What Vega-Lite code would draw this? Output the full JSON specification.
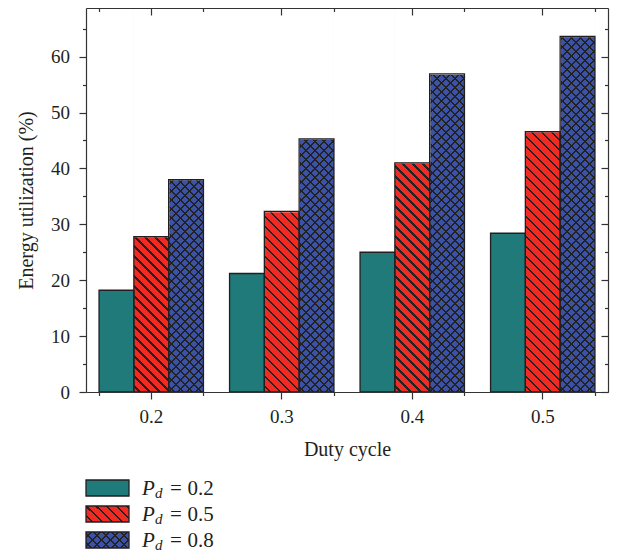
{
  "$schema": "https://vega.github.io/schema/vega-lite/v6.json",
  "autosize": {"type": "pad"},
  "padding": {"left": 16, "top": 7, "right": 5, "bottom": 5},
  "background": "white",
  "bounds": "flush",
  "spacing": 83,
  "datasets": {
    "bars": [
      {"duty": "0.2", "pd": "0.2", "value": 18.2},
      {"duty": "0.2", "pd": "0.5", "value": 27.8},
      {"duty": "0.2", "pd": "0.8", "value": 38.0},
      {"duty": "0.3", "pd": "0.2", "value": 21.2},
      {"duty": "0.3", "pd": "0.5", "value": 32.3},
      {"duty": "0.3", "pd": "0.8", "value": 45.3},
      {"duty": "0.4", "pd": "0.2", "value": 25.0},
      {"duty": "0.4", "pd": "0.5", "value": 41.0},
      {"duty": "0.4", "pd": "0.8", "value": 56.9},
      {"duty": "0.5", "pd": "0.2", "value": 28.4},
      {"duty": "0.5", "pd": "0.5", "value": 46.6},
      {"duty": "0.5", "pd": "0.8", "value": 63.6}
    ]
  },
  "data": {"name": "bars"},
  "config": {
    "view": {"stroke": null},
    "axis": {
      "domainColor": "#333333", "domainWidth": 1.2,
      "tickColor": "#333333", "tickWidth": 1.2,
      "grid": false,
      "labelFont": "Liberation Serif", "labelFontSize": 19, "labelColor": "#231f20",
      "titleFont": "Liberation Serif", "titleFontSize": 20, "titleFontWeight": "normal", "titleColor": "#231f20"
    },
    "axisX": {"labelAngle": 0, "labelPadding": 8, "titlePadding": 13},
    "axisY": {"labelPadding": 9.5, "titlePadding": 14},
    "text": {"font": "Liberation Serif", "color": "#231f20"}
  },
  "vconcat": [
    {
      "width": 522,
      "height": 384,
      "resolve": {"axis": {"x": "independent", "y": "independent"}},
      "layer": [
        {
          "transform": [{"filter": "datum.pd === '0.5'"}],
          "mark": {"type": "bar", "fill": {"gradient": "linear", "x1": 0, "y1": 1, "x2": 0.11704, "y2": -0.29147, "stops": [
            {"offset":0,"color":"#ef2b24"},
            {"offset":0.01,"color":"#ef2b24"},{"offset":0.01,"color":"#222"},{"offset":0.015,"color":"#222"},{"offset":0.015,"color":"#ef2b24"},
            {"offset":0.03,"color":"#ef2b24"},{"offset":0.03,"color":"#222"},{"offset":0.035,"color":"#222"},{"offset":0.035,"color":"#ef2b24"},
            {"offset":0.05,"color":"#ef2b24"},{"offset":0.05,"color":"#222"},{"offset":0.055,"color":"#222"},{"offset":0.055,"color":"#ef2b24"},
            {"offset":0.07,"color":"#ef2b24"},{"offset":0.07,"color":"#222"},{"offset":0.075,"color":"#222"},{"offset":0.075,"color":"#ef2b24"},
            {"offset":0.09,"color":"#ef2b24"},{"offset":0.09,"color":"#222"},{"offset":0.095,"color":"#222"},{"offset":0.095,"color":"#ef2b24"},
            {"offset":0.11,"color":"#ef2b24"},{"offset":0.11,"color":"#222"},{"offset":0.115,"color":"#222"},{"offset":0.115,"color":"#ef2b24"},
            {"offset":0.13,"color":"#ef2b24"},{"offset":0.13,"color":"#222"},{"offset":0.135,"color":"#222"},{"offset":0.135,"color":"#ef2b24"},
            {"offset":0.15,"color":"#ef2b24"},{"offset":0.15,"color":"#222"},{"offset":0.155,"color":"#222"},{"offset":0.155,"color":"#ef2b24"},
            {"offset":0.17,"color":"#ef2b24"},{"offset":0.17,"color":"#222"},{"offset":0.175,"color":"#222"},{"offset":0.175,"color":"#ef2b24"},
            {"offset":0.19,"color":"#ef2b24"},{"offset":0.19,"color":"#222"},{"offset":0.195,"color":"#222"},{"offset":0.195,"color":"#ef2b24"},
            {"offset":0.21,"color":"#ef2b24"},{"offset":0.21,"color":"#222"},{"offset":0.215,"color":"#222"},{"offset":0.215,"color":"#ef2b24"},
            {"offset":0.23,"color":"#ef2b24"},{"offset":0.23,"color":"#222"},{"offset":0.235,"color":"#222"},{"offset":0.235,"color":"#ef2b24"},
            {"offset":0.25,"color":"#ef2b24"},{"offset":0.25,"color":"#222"},{"offset":0.255,"color":"#222"},{"offset":0.255,"color":"#ef2b24"},
            {"offset":0.27,"color":"#ef2b24"},{"offset":0.27,"color":"#222"},{"offset":0.275,"color":"#222"},{"offset":0.275,"color":"#ef2b24"},
            {"offset":0.29,"color":"#ef2b24"},{"offset":0.29,"color":"#222"},{"offset":0.295,"color":"#222"},{"offset":0.295,"color":"#ef2b24"},
            {"offset":0.31,"color":"#ef2b24"},{"offset":0.31,"color":"#222"},{"offset":0.315,"color":"#222"},{"offset":0.315,"color":"#ef2b24"},
            {"offset":0.33,"color":"#ef2b24"},{"offset":0.33,"color":"#222"},{"offset":0.335,"color":"#222"},{"offset":0.335,"color":"#ef2b24"},
            {"offset":0.35,"color":"#ef2b24"},{"offset":0.35,"color":"#222"},{"offset":0.355,"color":"#222"},{"offset":0.355,"color":"#ef2b24"},
            {"offset":0.37,"color":"#ef2b24"},{"offset":0.37,"color":"#222"},{"offset":0.375,"color":"#222"},{"offset":0.375,"color":"#ef2b24"},
            {"offset":0.39,"color":"#ef2b24"},{"offset":0.39,"color":"#222"},{"offset":0.395,"color":"#222"},{"offset":0.395,"color":"#ef2b24"},
            {"offset":0.41,"color":"#ef2b24"},{"offset":0.41,"color":"#222"},{"offset":0.415,"color":"#222"},{"offset":0.415,"color":"#ef2b24"},
            {"offset":0.43,"color":"#ef2b24"},{"offset":0.43,"color":"#222"},{"offset":0.435,"color":"#222"},{"offset":0.435,"color":"#ef2b24"},
            {"offset":0.45,"color":"#ef2b24"},{"offset":0.45,"color":"#222"},{"offset":0.455,"color":"#222"},{"offset":0.455,"color":"#ef2b24"},
            {"offset":0.47,"color":"#ef2b24"},{"offset":0.47,"color":"#222"},{"offset":0.475,"color":"#222"},{"offset":0.475,"color":"#ef2b24"},
            {"offset":0.49,"color":"#ef2b24"},{"offset":0.49,"color":"#222"},{"offset":0.495,"color":"#222"},{"offset":0.495,"color":"#ef2b24"},
            {"offset":0.51,"color":"#ef2b24"},{"offset":0.51,"color":"#222"},{"offset":0.515,"color":"#222"},{"offset":0.515,"color":"#ef2b24"},
            {"offset":0.53,"color":"#ef2b24"},{"offset":0.53,"color":"#222"},{"offset":0.535,"color":"#222"},{"offset":0.535,"color":"#ef2b24"},
            {"offset":0.55,"color":"#ef2b24"},{"offset":0.55,"color":"#222"},{"offset":0.555,"color":"#222"},{"offset":0.555,"color":"#ef2b24"},
            {"offset":0.57,"color":"#ef2b24"},{"offset":0.57,"color":"#222"},{"offset":0.575,"color":"#222"},{"offset":0.575,"color":"#ef2b24"},
            {"offset":0.59,"color":"#ef2b24"},{"offset":0.59,"color":"#222"},{"offset":0.595,"color":"#222"},{"offset":0.595,"color":"#ef2b24"},
            {"offset":0.61,"color":"#ef2b24"},{"offset":0.61,"color":"#222"},{"offset":0.615,"color":"#222"},{"offset":0.615,"color":"#ef2b24"},
            {"offset":0.63,"color":"#ef2b24"},{"offset":0.63,"color":"#222"},{"offset":0.635,"color":"#222"},{"offset":0.635,"color":"#ef2b24"},
            {"offset":0.65,"color":"#ef2b24"},{"offset":0.65,"color":"#222"},{"offset":0.655,"color":"#222"},{"offset":0.655,"color":"#ef2b24"},
            {"offset":0.67,"color":"#ef2b24"},{"offset":0.67,"color":"#222"},{"offset":0.675,"color":"#222"},{"offset":0.675,"color":"#ef2b24"},
            {"offset":0.69,"color":"#ef2b24"},{"offset":0.69,"color":"#222"},{"offset":0.695,"color":"#222"},{"offset":0.695,"color":"#ef2b24"},
            {"offset":0.71,"color":"#ef2b24"},{"offset":0.71,"color":"#222"},{"offset":0.715,"color":"#222"},{"offset":0.715,"color":"#ef2b24"},
            {"offset":0.73,"color":"#ef2b24"},{"offset":0.73,"color":"#222"},{"offset":0.735,"color":"#222"},{"offset":0.735,"color":"#ef2b24"},
            {"offset":0.75,"color":"#ef2b24"},{"offset":0.75,"color":"#222"},{"offset":0.755,"color":"#222"},{"offset":0.755,"color":"#ef2b24"},
            {"offset":0.77,"color":"#ef2b24"},{"offset":0.77,"color":"#222"},{"offset":0.775,"color":"#222"},{"offset":0.775,"color":"#ef2b24"},
            {"offset":0.79,"color":"#ef2b24"},{"offset":0.79,"color":"#222"},{"offset":0.795,"color":"#222"},{"offset":0.795,"color":"#ef2b24"},
            {"offset":0.81,"color":"#ef2b24"},{"offset":0.81,"color":"#222"},{"offset":0.815,"color":"#222"},{"offset":0.815,"color":"#ef2b24"},
            {"offset":0.83,"color":"#ef2b24"},{"offset":0.83,"color":"#222"},{"offset":0.835,"color":"#222"},{"offset":0.835,"color":"#ef2b24"},
            {"offset":0.85,"color":"#ef2b24"},{"offset":0.85,"color":"#222"},{"offset":0.855,"color":"#222"},{"offset":0.855,"color":"#ef2b24"},
            {"offset":1,"color":"#ef2b24"}
          ]}},
          "encoding": {
            "x": {"field": "duty", "type": "nominal", "scale": {"paddingInner": 0.2, "paddingOuter": 0.1},
                  "axis": {"orient": "top", "tickSize": -7, "labels": false, "title": null, "domain": true, "zindex": 2}},
            "xOffset": {"field": "pd", "type": "nominal", "scale": {"domain": ["0.2", "0.5", "0.8"]}},
            "y": {"datum": 0, "type": "quantitative", "scale": {"domain": [0, 68.7], "nice": false}, "axis": null},
            "y2": {"datum": 68.7}
          }
        },
        {
          "transform": [{"filter": "datum.pd === '0.8'"}],
          "mark": {"type": "bar", "fill": {"gradient": "linear", "x1": 0, "y1": 1, "x2": 0.10534, "y2": -0.16233, "stops": [
            {"offset":0,"color":"#3c52a6"},
            {"offset":0.01,"color":"#3c52a6"},{"offset":0.01,"color":"#222"},{"offset":0.015,"color":"#222"},{"offset":0.015,"color":"#3c52a6"},
            {"offset":0.03,"color":"#3c52a6"},{"offset":0.03,"color":"#222"},{"offset":0.035,"color":"#222"},{"offset":0.035,"color":"#3c52a6"},
            {"offset":0.05,"color":"#3c52a6"},{"offset":0.05,"color":"#222"},{"offset":0.055,"color":"#222"},{"offset":0.055,"color":"#3c52a6"},
            {"offset":0.07,"color":"#3c52a6"},{"offset":0.07,"color":"#222"},{"offset":0.075,"color":"#222"},{"offset":0.075,"color":"#3c52a6"},
            {"offset":0.09,"color":"#3c52a6"},{"offset":0.09,"color":"#222"},{"offset":0.095,"color":"#222"},{"offset":0.095,"color":"#3c52a6"},
            {"offset":0.11,"color":"#3c52a6"},{"offset":0.11,"color":"#222"},{"offset":0.115,"color":"#222"},{"offset":0.115,"color":"#3c52a6"},
            {"offset":0.13,"color":"#3c52a6"},{"offset":0.13,"color":"#222"},{"offset":0.135,"color":"#222"},{"offset":0.135,"color":"#3c52a6"},
            {"offset":0.15,"color":"#3c52a6"},{"offset":0.15,"color":"#222"},{"offset":0.155,"color":"#222"},{"offset":0.155,"color":"#3c52a6"},
            {"offset":0.17,"color":"#3c52a6"},{"offset":0.17,"color":"#222"},{"offset":0.175,"color":"#222"},{"offset":0.175,"color":"#3c52a6"},
            {"offset":0.19,"color":"#3c52a6"},{"offset":0.19,"color":"#222"},{"offset":0.195,"color":"#222"},{"offset":0.195,"color":"#3c52a6"},
            {"offset":0.21,"color":"#3c52a6"},{"offset":0.21,"color":"#222"},{"offset":0.215,"color":"#222"},{"offset":0.215,"color":"#3c52a6"},
            {"offset":0.23,"color":"#3c52a6"},{"offset":0.23,"color":"#222"},{"offset":0.235,"color":"#222"},{"offset":0.235,"color":"#3c52a6"},
            {"offset":0.25,"color":"#3c52a6"},{"offset":0.25,"color":"#222"},{"offset":0.255,"color":"#222"},{"offset":0.255,"color":"#3c52a6"},
            {"offset":0.27,"color":"#3c52a6"},{"offset":0.27,"color":"#222"},{"offset":0.275,"color":"#222"},{"offset":0.275,"color":"#3c52a6"},
            {"offset":0.29,"color":"#3c52a6"},{"offset":0.29,"color":"#222"},{"offset":0.295,"color":"#222"},{"offset":0.295,"color":"#3c52a6"},
            {"offset":0.31,"color":"#3c52a6"},{"offset":0.31,"color":"#222"},{"offset":0.315,"color":"#222"},{"offset":0.315,"color":"#3c52a6"},
            {"offset":0.33,"color":"#3c52a6"},{"offset":0.33,"color":"#222"},{"offset":0.335,"color":"#222"},{"offset":0.335,"color":"#3c52a6"},
            {"offset":0.35,"color":"#3c52a6"},{"offset":0.35,"color":"#222"},{"offset":0.355,"color":"#222"},{"offset":0.355,"color":"#3c52a6"},
            {"offset":0.37,"color":"#3c52a6"},{"offset":0.37,"color":"#222"},{"offset":0.375,"color":"#222"},{"offset":0.375,"color":"#3c52a6"},
            {"offset":0.39,"color":"#3c52a6"},{"offset":0.39,"color":"#222"},{"offset":0.395,"color":"#222"},{"offset":0.395,"color":"#3c52a6"},
            {"offset":0.41,"color":"#3c52a6"},{"offset":0.41,"color":"#222"},{"offset":0.415,"color":"#222"},{"offset":0.415,"color":"#3c52a6"},
            {"offset":0.43,"color":"#3c52a6"},{"offset":0.43,"color":"#222"},{"offset":0.435,"color":"#222"},{"offset":0.435,"color":"#3c52a6"},
            {"offset":0.45,"color":"#3c52a6"},{"offset":0.45,"color":"#222"},{"offset":0.455,"color":"#222"},{"offset":0.455,"color":"#3c52a6"},
            {"offset":0.47,"color":"#3c52a6"},{"offset":0.47,"color":"#222"},{"offset":0.475,"color":"#222"},{"offset":0.475,"color":"#3c52a6"},
            {"offset":0.49,"color":"#3c52a6"},{"offset":0.49,"color":"#222"},{"offset":0.495,"color":"#222"},{"offset":0.495,"color":"#3c52a6"},
            {"offset":0.51,"color":"#3c52a6"},{"offset":0.51,"color":"#222"},{"offset":0.515,"color":"#222"},{"offset":0.515,"color":"#3c52a6"},
            {"offset":0.53,"color":"#3c52a6"},{"offset":0.53,"color":"#222"},{"offset":0.535,"color":"#222"},{"offset":0.535,"color":"#3c52a6"},
            {"offset":0.55,"color":"#3c52a6"},{"offset":0.55,"color":"#222"},{"offset":0.555,"color":"#222"},{"offset":0.555,"color":"#3c52a6"},
            {"offset":0.57,"color":"#3c52a6"},{"offset":0.57,"color":"#222"},{"offset":0.575,"color":"#222"},{"offset":0.575,"color":"#3c52a6"},
            {"offset":0.59,"color":"#3c52a6"},{"offset":0.59,"color":"#222"},{"offset":0.595,"color":"#222"},{"offset":0.595,"color":"#3c52a6"},
            {"offset":0.61,"color":"#3c52a6"},{"offset":0.61,"color":"#222"},{"offset":0.615,"color":"#222"},{"offset":0.615,"color":"#3c52a6"},
            {"offset":0.63,"color":"#3c52a6"},{"offset":0.63,"color":"#222"},{"offset":0.635,"color":"#222"},{"offset":0.635,"color":"#3c52a6"},
            {"offset":0.65,"color":"#3c52a6"},{"offset":0.65,"color":"#222"},{"offset":0.655,"color":"#222"},{"offset":0.655,"color":"#3c52a6"},
            {"offset":0.67,"color":"#3c52a6"},{"offset":0.67,"color":"#222"},{"offset":0.675,"color":"#222"},{"offset":0.675,"color":"#3c52a6"},
            {"offset":0.69,"color":"#3c52a6"},{"offset":0.69,"color":"#222"},{"offset":0.695,"color":"#222"},{"offset":0.695,"color":"#3c52a6"},
            {"offset":0.71,"color":"#3c52a6"},{"offset":0.71,"color":"#222"},{"offset":0.715,"color":"#222"},{"offset":0.715,"color":"#3c52a6"},
            {"offset":0.73,"color":"#3c52a6"},{"offset":0.73,"color":"#222"},{"offset":0.735,"color":"#222"},{"offset":0.735,"color":"#3c52a6"},
            {"offset":0.75,"color":"#3c52a6"},{"offset":0.75,"color":"#222"},{"offset":0.755,"color":"#222"},{"offset":0.755,"color":"#3c52a6"},
            {"offset":0.77,"color":"#3c52a6"},{"offset":0.77,"color":"#222"},{"offset":0.775,"color":"#222"},{"offset":0.775,"color":"#3c52a6"},
            {"offset":0.79,"color":"#3c52a6"},{"offset":0.79,"color":"#222"},{"offset":0.795,"color":"#222"},{"offset":0.795,"color":"#3c52a6"},
            {"offset":0.81,"color":"#3c52a6"},{"offset":0.81,"color":"#222"},{"offset":0.815,"color":"#222"},{"offset":0.815,"color":"#3c52a6"},
            {"offset":0.83,"color":"#3c52a6"},{"offset":0.83,"color":"#222"},{"offset":0.835,"color":"#222"},{"offset":0.835,"color":"#3c52a6"},
            {"offset":0.85,"color":"#3c52a6"},{"offset":0.85,"color":"#222"},{"offset":0.855,"color":"#222"},{"offset":0.855,"color":"#3c52a6"},
            {"offset":0.87,"color":"#3c52a6"},{"offset":0.87,"color":"#222"},{"offset":0.875,"color":"#222"},{"offset":0.875,"color":"#3c52a6"},
            {"offset":0.89,"color":"#3c52a6"},{"offset":0.89,"color":"#222"},{"offset":0.895,"color":"#222"},{"offset":0.895,"color":"#3c52a6"},
            {"offset":0.91,"color":"#3c52a6"},{"offset":0.91,"color":"#222"},{"offset":0.915,"color":"#222"},{"offset":0.915,"color":"#3c52a6"},
            {"offset":0.93,"color":"#3c52a6"},{"offset":0.93,"color":"#222"},{"offset":0.935,"color":"#222"},{"offset":0.935,"color":"#3c52a6"},
            {"offset":1,"color":"#3c52a6"}
          ]}},
          "encoding": {
            "x": {"field": "duty", "type": "nominal", "scale": {"paddingInner": 0.2, "paddingOuter": 0.1},
                  "axis": {"orient": "top", "tickBand": "extent", "tickSize": -3.5, "labels": false, "title": null, "domain": false, "zindex": 2}},
            "xOffset": {"field": "pd", "type": "nominal", "scale": {"domain": ["0.2", "0.5", "0.8"]}},
            "y": {"datum": 0, "type": "quantitative", "scale": {"domain": [0, 68.7], "nice": false}, "axis": null},
            "y2": {"datum": 68.7}
          }
        },
        {
          "transform": [{"filter": "datum.pd === '0.8'"}],
          "mark": {"type": "bar", "fill": {"gradient": "linear", "x1": 0, "y1": 0, "x2": 0.10534, "y2": 1.16233, "stops": [
            {"offset":0,"color":"rgba(34,34,34,0)"},
            {"offset":0.01,"color":"rgba(34,34,34,0)"},{"offset":0.01,"color":"#222"},{"offset":0.015,"color":"#222"},{"offset":0.015,"color":"rgba(34,34,34,0)"},
            {"offset":0.03,"color":"rgba(34,34,34,0)"},{"offset":0.03,"color":"#222"},{"offset":0.035,"color":"#222"},{"offset":0.035,"color":"rgba(34,34,34,0)"},
            {"offset":0.05,"color":"rgba(34,34,34,0)"},{"offset":0.05,"color":"#222"},{"offset":0.055,"color":"#222"},{"offset":0.055,"color":"rgba(34,34,34,0)"},
            {"offset":0.07,"color":"rgba(34,34,34,0)"},{"offset":0.07,"color":"#222"},{"offset":0.075,"color":"#222"},{"offset":0.075,"color":"rgba(34,34,34,0)"},
            {"offset":0.09,"color":"rgba(34,34,34,0)"},{"offset":0.09,"color":"#222"},{"offset":0.095,"color":"#222"},{"offset":0.095,"color":"rgba(34,34,34,0)"},
            {"offset":0.11,"color":"rgba(34,34,34,0)"},{"offset":0.11,"color":"#222"},{"offset":0.115,"color":"#222"},{"offset":0.115,"color":"rgba(34,34,34,0)"},
            {"offset":0.13,"color":"rgba(34,34,34,0)"},{"offset":0.13,"color":"#222"},{"offset":0.135,"color":"#222"},{"offset":0.135,"color":"rgba(34,34,34,0)"},
            {"offset":0.15,"color":"rgba(34,34,34,0)"},{"offset":0.15,"color":"#222"},{"offset":0.155,"color":"#222"},{"offset":0.155,"color":"rgba(34,34,34,0)"},
            {"offset":0.17,"color":"rgba(34,34,34,0)"},{"offset":0.17,"color":"#222"},{"offset":0.175,"color":"#222"},{"offset":0.175,"color":"rgba(34,34,34,0)"},
            {"offset":0.19,"color":"rgba(34,34,34,0)"},{"offset":0.19,"color":"#222"},{"offset":0.195,"color":"#222"},{"offset":0.195,"color":"rgba(34,34,34,0)"},
            {"offset":0.21,"color":"rgba(34,34,34,0)"},{"offset":0.21,"color":"#222"},{"offset":0.215,"color":"#222"},{"offset":0.215,"color":"rgba(34,34,34,0)"},
            {"offset":0.23,"color":"rgba(34,34,34,0)"},{"offset":0.23,"color":"#222"},{"offset":0.235,"color":"#222"},{"offset":0.235,"color":"rgba(34,34,34,0)"},
            {"offset":0.25,"color":"rgba(34,34,34,0)"},{"offset":0.25,"color":"#222"},{"offset":0.255,"color":"#222"},{"offset":0.255,"color":"rgba(34,34,34,0)"},
            {"offset":0.27,"color":"rgba(34,34,34,0)"},{"offset":0.27,"color":"#222"},{"offset":0.275,"color":"#222"},{"offset":0.275,"color":"rgba(34,34,34,0)"},
            {"offset":0.29,"color":"rgba(34,34,34,0)"},{"offset":0.29,"color":"#222"},{"offset":0.295,"color":"#222"},{"offset":0.295,"color":"rgba(34,34,34,0)"},
            {"offset":0.31,"color":"rgba(34,34,34,0)"},{"offset":0.31,"color":"#222"},{"offset":0.315,"color":"#222"},{"offset":0.315,"color":"rgba(34,34,34,0)"},
            {"offset":0.33,"color":"rgba(34,34,34,0)"},{"offset":0.33,"color":"#222"},{"offset":0.335,"color":"#222"},{"offset":0.335,"color":"rgba(34,34,34,0)"},
            {"offset":0.35,"color":"rgba(34,34,34,0)"},{"offset":0.35,"color":"#222"},{"offset":0.355,"color":"#222"},{"offset":0.355,"color":"rgba(34,34,34,0)"},
            {"offset":0.37,"color":"rgba(34,34,34,0)"},{"offset":0.37,"color":"#222"},{"offset":0.375,"color":"#222"},{"offset":0.375,"color":"rgba(34,34,34,0)"},
            {"offset":0.39,"color":"rgba(34,34,34,0)"},{"offset":0.39,"color":"#222"},{"offset":0.395,"color":"#222"},{"offset":0.395,"color":"rgba(34,34,34,0)"},
            {"offset":0.41,"color":"rgba(34,34,34,0)"},{"offset":0.41,"color":"#222"},{"offset":0.415,"color":"#222"},{"offset":0.415,"color":"rgba(34,34,34,0)"},
            {"offset":0.43,"color":"rgba(34,34,34,0)"},{"offset":0.43,"color":"#222"},{"offset":0.435,"color":"#222"},{"offset":0.435,"color":"rgba(34,34,34,0)"},
            {"offset":0.45,"color":"rgba(34,34,34,0)"},{"offset":0.45,"color":"#222"},{"offset":0.455,"color":"#222"},{"offset":0.455,"color":"rgba(34,34,34,0)"},
            {"offset":0.47,"color":"rgba(34,34,34,0)"},{"offset":0.47,"color":"#222"},{"offset":0.475,"color":"#222"},{"offset":0.475,"color":"rgba(34,34,34,0)"},
            {"offset":0.49,"color":"rgba(34,34,34,0)"},{"offset":0.49,"color":"#222"},{"offset":0.495,"color":"#222"},{"offset":0.495,"color":"rgba(34,34,34,0)"},
            {"offset":0.51,"color":"rgba(34,34,34,0)"},{"offset":0.51,"color":"#222"},{"offset":0.515,"color":"#222"},{"offset":0.515,"color":"rgba(34,34,34,0)"},
            {"offset":0.53,"color":"rgba(34,34,34,0)"},{"offset":0.53,"color":"#222"},{"offset":0.535,"color":"#222"},{"offset":0.535,"color":"rgba(34,34,34,0)"},
            {"offset":0.55,"color":"rgba(34,34,34,0)"},{"offset":0.55,"color":"#222"},{"offset":0.555,"color":"#222"},{"offset":0.555,"color":"rgba(34,34,34,0)"},
            {"offset":0.57,"color":"rgba(34,34,34,0)"},{"offset":0.57,"color":"#222"},{"offset":0.575,"color":"#222"},{"offset":0.575,"color":"rgba(34,34,34,0)"},
            {"offset":0.59,"color":"rgba(34,34,34,0)"},{"offset":0.59,"color":"#222"},{"offset":0.595,"color":"#222"},{"offset":0.595,"color":"rgba(34,34,34,0)"},
            {"offset":0.61,"color":"rgba(34,34,34,0)"},{"offset":0.61,"color":"#222"},{"offset":0.615,"color":"#222"},{"offset":0.615,"color":"rgba(34,34,34,0)"},
            {"offset":0.63,"color":"rgba(34,34,34,0)"},{"offset":0.63,"color":"#222"},{"offset":0.635,"color":"#222"},{"offset":0.635,"color":"rgba(34,34,34,0)"},
            {"offset":0.65,"color":"rgba(34,34,34,0)"},{"offset":0.65,"color":"#222"},{"offset":0.655,"color":"#222"},{"offset":0.655,"color":"rgba(34,34,34,0)"},
            {"offset":0.67,"color":"rgba(34,34,34,0)"},{"offset":0.67,"color":"#222"},{"offset":0.675,"color":"#222"},{"offset":0.675,"color":"rgba(34,34,34,0)"},
            {"offset":0.69,"color":"rgba(34,34,34,0)"},{"offset":0.69,"color":"#222"},{"offset":0.695,"color":"#222"},{"offset":0.695,"color":"rgba(34,34,34,0)"},
            {"offset":0.71,"color":"rgba(34,34,34,0)"},{"offset":0.71,"color":"#222"},{"offset":0.715,"color":"#222"},{"offset":0.715,"color":"rgba(34,34,34,0)"},
            {"offset":0.73,"color":"rgba(34,34,34,0)"},{"offset":0.73,"color":"#222"},{"offset":0.735,"color":"#222"},{"offset":0.735,"color":"rgba(34,34,34,0)"},
            {"offset":0.75,"color":"rgba(34,34,34,0)"},{"offset":0.75,"color":"#222"},{"offset":0.755,"color":"#222"},{"offset":0.755,"color":"rgba(34,34,34,0)"},
            {"offset":0.77,"color":"rgba(34,34,34,0)"},{"offset":0.77,"color":"#222"},{"offset":0.775,"color":"#222"},{"offset":0.775,"color":"rgba(34,34,34,0)"},
            {"offset":0.79,"color":"rgba(34,34,34,0)"},{"offset":0.79,"color":"#222"},{"offset":0.795,"color":"#222"},{"offset":0.795,"color":"rgba(34,34,34,0)"},
            {"offset":0.81,"color":"rgba(34,34,34,0)"},{"offset":0.81,"color":"#222"},{"offset":0.815,"color":"#222"},{"offset":0.815,"color":"rgba(34,34,34,0)"},
            {"offset":0.83,"color":"rgba(34,34,34,0)"},{"offset":0.83,"color":"#222"},{"offset":0.835,"color":"#222"},{"offset":0.835,"color":"rgba(34,34,34,0)"},
            {"offset":0.85,"color":"rgba(34,34,34,0)"},{"offset":0.85,"color":"#222"},{"offset":0.855,"color":"#222"},{"offset":0.855,"color":"rgba(34,34,34,0)"},
            {"offset":0.87,"color":"rgba(34,34,34,0)"},{"offset":0.87,"color":"#222"},{"offset":0.875,"color":"#222"},{"offset":0.875,"color":"rgba(34,34,34,0)"},
            {"offset":0.89,"color":"rgba(34,34,34,0)"},{"offset":0.89,"color":"#222"},{"offset":0.895,"color":"#222"},{"offset":0.895,"color":"rgba(34,34,34,0)"},
            {"offset":0.91,"color":"rgba(34,34,34,0)"},{"offset":0.91,"color":"#222"},{"offset":0.915,"color":"#222"},{"offset":0.915,"color":"rgba(34,34,34,0)"},
            {"offset":0.93,"color":"rgba(34,34,34,0)"},{"offset":0.93,"color":"#222"},{"offset":0.935,"color":"#222"},{"offset":0.935,"color":"rgba(34,34,34,0)"},
            {"offset":1,"color":"rgba(34,34,34,0)"}
          ]}},
          "encoding": {
            "x": {"field": "duty", "type": "nominal", "scale": {"paddingInner": 0.2, "paddingOuter": 0.1},
                  "axis": {"orient": "bottom", "tickBand": "extent", "tickSize": 3.5, "labels": false, "title": null, "domain": false, "zindex": 2}},
            "xOffset": {"field": "pd", "type": "nominal", "scale": {"domain": ["0.2", "0.5", "0.8"]}},
            "y": {"datum": 0, "type": "quantitative", "scale": {"domain": [0, 68.7], "nice": false}, "axis": null},
            "y2": {"datum": 68.7}
          }
        },
        {
          "transform": [{"filter": "datum.pd !== '0.2'"}],
          "mark": {"type": "bar", "fill": "white", "stroke": "white", "strokeWidth": 1.4},
          "encoding": {
            "x": {"field": "duty", "type": "nominal", "scale": {"paddingInner": 0.2, "paddingOuter": 0.1}, "axis": null},
            "xOffset": {"field": "pd", "type": "nominal", "scale": {"domain": ["0.2", "0.5", "0.8"]}},
            "y": {"field": "value", "type": "quantitative", "scale": {"domain": [0, 68.7], "nice": false},
                  "axis": {"orient": "right", "values": [0, 5, 10, 15, 20, 25, 30, 35, 40, 45, 50, 55, 60, 65],
                           "tickSize": {"condition": {"test": "datum.value % 10 === 0", "value": -7}, "value": -3.5},
                           "labels": false, "title": null, "zindex": 2}},
            "y2": {"datum": 68.7}
          }
        },
        {
          "mark": {"type": "bar", "stroke": "#231f20", "strokeWidth": 1.3},
          "encoding": {
            "x": {"field": "duty", "type": "nominal", "scale": {"paddingInner": 0.2, "paddingOuter": 0.1},
                  "axis": {"orient": "bottom", "tickSize": 7, "title": "Duty cycle", "zindex": 2}},
            "xOffset": {"field": "pd", "type": "nominal", "scale": {"domain": ["0.2", "0.5", "0.8"]}},
            "y": {"field": "value", "type": "quantitative", "scale": {"domain": [0, 68.7], "nice": false},
                  "axis": {"orient": "left", "values": [0, 5, 10, 15, 20, 25, 30, 35, 40, 45, 50, 55, 60, 65],
                           "tickSize": {"condition": {"test": "datum.value % 10 === 0", "value": 7}, "value": 3.5},
                           "labelExpr": "datum.value % 10 === 0 ? datum.label : ''",
                           "title": "Energy utilization (%)", "zindex": 2}},
            "fill": {"field": "pd", "type": "nominal",
                     "scale": {"domain": ["0.2", "0.5", "0.8"], "range": ["#1f7a79", "transparent", "transparent"]},
                     "legend": null}
          }
        }
      ]
    },
    {
      "width": 43,
      "height": 78,
      "transform": [{"filter": "datum.duty === '0.2'"}],
      "encoding": {
        "y": {"field": "pd", "type": "nominal",
              "scale": {"domain": ["0.2", "0.5", "0.8"], "paddingInner": 0.385, "paddingOuter": 0.1925},
              "axis": null}
      },
      "layer": [
        {
          "transform": [{"filter": "datum.pd === '0.5'"}],
          "mark": {"type": "bar", "fill": {"gradient": "linear", "x1": 0, "y1": 1, "x2": 2.043, "y2": 0.2398, "stops": [
            {"offset":0,"color":"#ef2b24"},
            {"offset":0.05,"color":"#ef2b24"},{"offset":0.05,"color":"#222"},{"offset":0.075,"color":"#222"},{"offset":0.075,"color":"#ef2b24"},
            {"offset":0.15,"color":"#ef2b24"},{"offset":0.15,"color":"#222"},{"offset":0.175,"color":"#222"},{"offset":0.175,"color":"#ef2b24"},
            {"offset":0.25,"color":"#ef2b24"},{"offset":0.25,"color":"#222"},{"offset":0.275,"color":"#222"},{"offset":0.275,"color":"#ef2b24"},
            {"offset":0.35,"color":"#ef2b24"},{"offset":0.35,"color":"#222"},{"offset":0.375,"color":"#222"},{"offset":0.375,"color":"#ef2b24"},
            {"offset":0.45,"color":"#ef2b24"},{"offset":0.45,"color":"#222"},{"offset":0.475,"color":"#222"},{"offset":0.475,"color":"#ef2b24"},
            {"offset":0.55,"color":"#ef2b24"},{"offset":0.55,"color":"#222"},{"offset":0.575,"color":"#222"},{"offset":0.575,"color":"#ef2b24"},
            {"offset":1,"color":"#ef2b24"}
          ]}},
          "encoding": {"x": {"value": 0}, "x2": {"value": "width"}}
        },
        {
          "transform": [{"filter": "datum.pd === '0.8'"}],
          "mark": {"type": "bar", "fill": {"gradient": "linear", "x1": 0, "y1": 1, "x2": 1.8387, "y2": 0.3158, "stops": [
            {"offset":0,"color":"#3c52a6"},
            {"offset":0.05,"color":"#3c52a6"},{"offset":0.05,"color":"#222"},{"offset":0.072,"color":"#222"},{"offset":0.072,"color":"#3c52a6"},
            {"offset":0.15,"color":"#3c52a6"},{"offset":0.15,"color":"#222"},{"offset":0.172,"color":"#222"},{"offset":0.172,"color":"#3c52a6"},
            {"offset":0.25,"color":"#3c52a6"},{"offset":0.25,"color":"#222"},{"offset":0.272,"color":"#222"},{"offset":0.272,"color":"#3c52a6"},
            {"offset":0.35,"color":"#3c52a6"},{"offset":0.35,"color":"#222"},{"offset":0.372,"color":"#222"},{"offset":0.372,"color":"#3c52a6"},
            {"offset":0.45,"color":"#3c52a6"},{"offset":0.45,"color":"#222"},{"offset":0.472,"color":"#222"},{"offset":0.472,"color":"#3c52a6"},
            {"offset":0.55,"color":"#3c52a6"},{"offset":0.55,"color":"#222"},{"offset":0.572,"color":"#222"},{"offset":0.572,"color":"#3c52a6"},
            {"offset":0.65,"color":"#3c52a6"},{"offset":0.65,"color":"#222"},{"offset":0.672,"color":"#222"},{"offset":0.672,"color":"#3c52a6"},
            {"offset":1,"color":"#3c52a6"}
          ]}},
          "encoding": {"x": {"value": 0}, "x2": {"value": "width"}}
        },
        {
          "transform": [{"filter": "datum.pd === '0.8'"}],
          "mark": {"type": "bar", "fill": {"gradient": "linear", "x1": 0, "y1": 0, "x2": 1.8387, "y2": 0.6842, "stops": [
            {"offset":0,"color":"rgba(34,34,34,0)"},
            {"offset":0.05,"color":"rgba(34,34,34,0)"},{"offset":0.05,"color":"#222"},{"offset":0.072,"color":"#222"},{"offset":0.072,"color":"rgba(34,34,34,0)"},
            {"offset":0.15,"color":"rgba(34,34,34,0)"},{"offset":0.15,"color":"#222"},{"offset":0.172,"color":"#222"},{"offset":0.172,"color":"rgba(34,34,34,0)"},
            {"offset":0.25,"color":"rgba(34,34,34,0)"},{"offset":0.25,"color":"#222"},{"offset":0.272,"color":"#222"},{"offset":0.272,"color":"rgba(34,34,34,0)"},
            {"offset":0.35,"color":"rgba(34,34,34,0)"},{"offset":0.35,"color":"#222"},{"offset":0.372,"color":"#222"},{"offset":0.372,"color":"rgba(34,34,34,0)"},
            {"offset":0.45,"color":"rgba(34,34,34,0)"},{"offset":0.45,"color":"#222"},{"offset":0.472,"color":"#222"},{"offset":0.472,"color":"rgba(34,34,34,0)"},
            {"offset":0.55,"color":"rgba(34,34,34,0)"},{"offset":0.55,"color":"#222"},{"offset":0.572,"color":"#222"},{"offset":0.572,"color":"rgba(34,34,34,0)"},
            {"offset":0.65,"color":"rgba(34,34,34,0)"},{"offset":0.65,"color":"#222"},{"offset":0.672,"color":"#222"},{"offset":0.672,"color":"rgba(34,34,34,0)"},
            {"offset":1,"color":"rgba(34,34,34,0)"}
          ]}},
          "encoding": {"x": {"value": 0}, "x2": {"value": "width"}}
        },
        {
          "mark": {"type": "bar", "stroke": "#231f20", "strokeWidth": 1.3},
          "encoding": {
            "x": {"value": 0}, "x2": {"value": "width"},
            "fill": {"field": "pd", "type": "nominal",
                     "scale": {"domain": ["0.2", "0.5", "0.8"], "range": ["#1f7a79", "transparent", "transparent"]},
                     "legend": null}
          }
        },
        {
          "mark": {"type": "text", "text": "P", "fontStyle": "italic", "fontSize": 21, "align": "left", "baseline": "alphabetic", "dx": 13, "dy": 7},
          "encoding": {"x": {"value": "width"}}
        },
        {
          "mark": {"type": "text", "text": "d", "fontStyle": "italic", "fontSize": 15, "align": "left", "baseline": "alphabetic", "dx": 26, "dy": 10},
          "encoding": {"x": {"value": "width"}}
        },
        {
          "mark": {"type": "text", "text": "=", "fontSize": 21, "align": "left", "baseline": "alphabetic", "dx": 41, "dy": 7},
          "encoding": {"x": {"value": "width"}}
        },
        {
          "mark": {"type": "text", "fontSize": 21, "align": "left", "baseline": "alphabetic", "dx": 58.5, "dy": 7},
          "encoding": {"x": {"value": "width"}, "text": {"field": "pd"}}
        }
      ]
    }
  ]
}
